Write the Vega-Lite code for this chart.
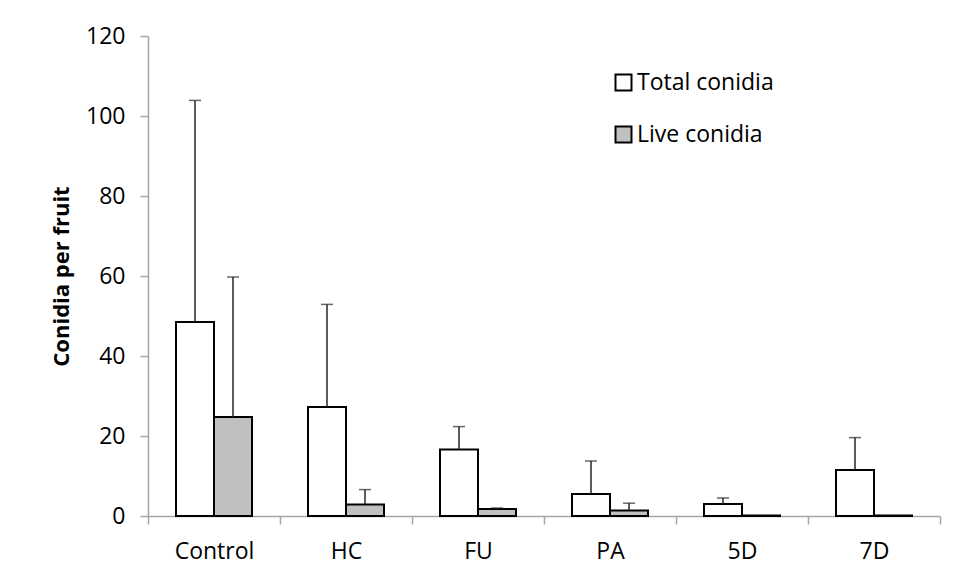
{
  "$schema": "https://vega.github.io/schema/vega-lite/v6.json",
  "width": 792,
  "height": 480,
  "autosize": {"type": "none"},
  "padding": {"left": 148, "top": 36, "right": 19, "bottom": 65},
  "background": "white",
  "config": {
    "font": "Open Sans",
    "view": {"stroke": null},
    "axis": {
      "domainColor": "#a6a6a6",
      "domainWidth": 1.5,
      "tickColor": "#a6a6a6",
      "tickWidth": 1.5,
      "tickSize": 8,
      "labelFontSize": 23,
      "labelColor": "black",
      "labelFont": "Open Sans",
      "grid": false
    }
  },
  "data": {
    "values": [
      {"cat": "Control", "series": "Total conidia", "value": 48.5, "upper": 103.9},
      {"cat": "Control", "series": "Live conidia", "value": 24.75, "upper": 59.75},
      {"cat": "HC", "series": "Total conidia", "value": 27.25, "upper": 52.9},
      {"cat": "HC", "series": "Live conidia", "value": 2.85, "upper": 6.6},
      {"cat": "FU", "series": "Total conidia", "value": 16.6, "upper": 22.35},
      {"cat": "FU", "series": "Live conidia", "value": 1.75, "upper": 2.0},
      {"cat": "PA", "series": "Total conidia", "value": 5.5, "upper": 13.75},
      {"cat": "PA", "series": "Live conidia", "value": 1.35, "upper": 3.2},
      {"cat": "5D", "series": "Total conidia", "value": 3.0, "upper": 4.5},
      {"cat": "5D", "series": "Live conidia", "value": 0.15, "upper": null},
      {"cat": "7D", "series": "Total conidia", "value": 11.5, "upper": 19.6},
      {"cat": "7D", "series": "Live conidia", "value": 0.1, "upper": null}
    ]
  },
  "encoding": {
    "x": {
      "field": "cat",
      "type": "nominal",
      "sort": ["Control", "HC", "FU", "PA", "5D", "7D"],
      "scale": {"paddingInner": 0, "paddingOuter": 0},
      "axis": {"title": null, "labelAngle": 0, "tickBand": "extent", "labelPadding": 16}
    },
    "xOffset": {
      "field": "series",
      "type": "nominal",
      "sort": ["Total conidia", "Live conidia"],
      "scale": {"paddingInner": 0, "paddingOuter": 0.737}
    }
  },
  "layer": [
    {
      "mark": {"type": "bar", "stroke": "black", "strokeWidth": 2},
      "encoding": {
        "y": {
          "field": "value",
          "type": "quantitative",
          "scale": {"domain": [0, 120], "nice": false},
          "axis": {
            "values": [0, 20, 40, 60, 80, 100, 120],
            "labelPadding": 15,
            "title": "Conidia per fruit",
            "titleFontSize": 22,
            "titleFontWeight": "bold",
            "titleFont": "Open Sans",
            "titleColor": "black",
            "titleX": -80,
            "titleBaseline": "alphabetic"
          }
        },
        "fill": {
          "field": "series",
          "type": "nominal",
          "scale": {"domain": ["Total conidia", "Live conidia"], "range": ["white", "#c0c0c0"]},
          "legend": {
            "title": null,
            "orient": "none",
            "legendX": 464,
            "legendY": 35,
            "symbolType": "square",
            "symbolSize": 256,
            "symbolStrokeColor": "black",
            "symbolStrokeWidth": 2,
            "labelFontSize": 23,
            "labelColor": "black",
            "labelFont": "Open Sans",
            "labelOffset": 2,
            "rowPadding": 27
          }
        }
      }
    },
    {
      "transform": [{"filter": "isValid(datum.upper)"}],
      "mark": {"type": "rule", "color": "#262626", "strokeWidth": 1.5},
      "encoding": {
        "y": {"field": "value", "type": "quantitative"},
        "y2": {"field": "upper"}
      }
    },
    {
      "transform": [{"filter": "isValid(datum.upper)"}],
      "mark": {"type": "tick", "color": "#262626", "thickness": 1.5, "size": 12},
      "encoding": {
        "y": {"field": "upper", "type": "quantitative"}
      }
    }
  ]
}
